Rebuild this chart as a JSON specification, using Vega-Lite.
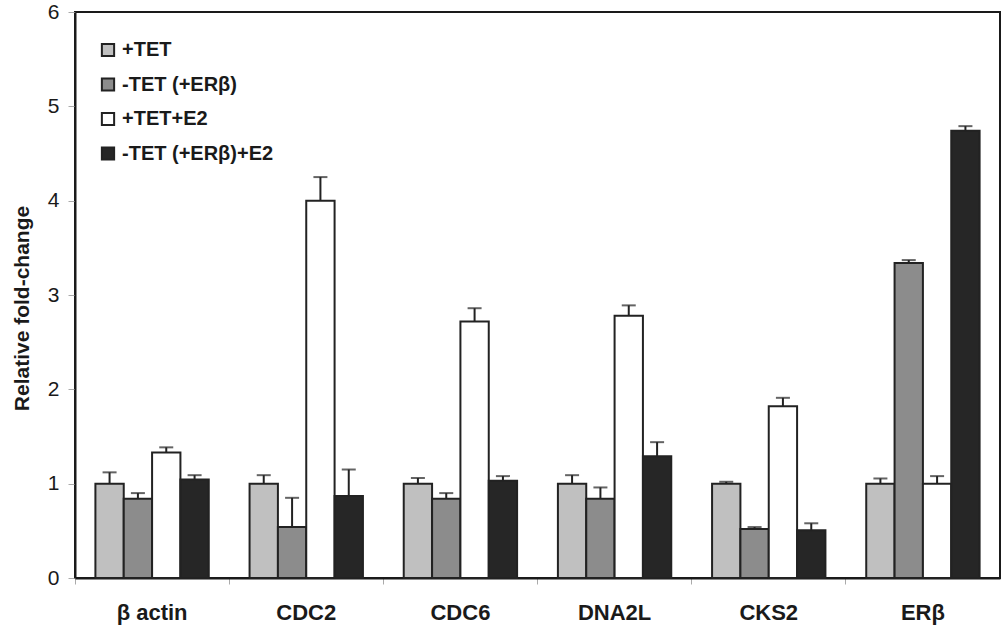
{
  "$schema": "https://vega.github.io/schema/vega-lite/v6.json",
  "width": 925,
  "height": 566,
  "autosize": {"type": "none"},
  "padding": {"left": 75, "top": 12, "right": 4, "bottom": 52},
  "background": "white",
  "config": {
    "view": {"stroke": "#1a1a1a", "strokeWidth": 2},
    "font": "Liberation Sans",
    "axis": {"grid": false}
  },
  "data": {
    "values": [
      {"gene": "β actin", "treatment": "+TET", "value": 1.0, "upper": 1.12},
      {"gene": "β actin", "treatment": "-TET (+ERβ)", "value": 0.84, "upper": 0.9},
      {"gene": "β actin", "treatment": "+TET+E2", "value": 1.33, "upper": 1.385},
      {"gene": "β actin", "treatment": "-TET (+ERβ)+E2", "value": 1.045, "upper": 1.09},
      {"gene": "CDC2", "treatment": "+TET", "value": 1.0, "upper": 1.09},
      {"gene": "CDC2", "treatment": "-TET (+ERβ)", "value": 0.54, "upper": 0.85},
      {"gene": "CDC2", "treatment": "+TET+E2", "value": 4.0, "upper": 4.25},
      {"gene": "CDC2", "treatment": "-TET (+ERβ)+E2", "value": 0.87, "upper": 1.15},
      {"gene": "CDC6", "treatment": "+TET", "value": 1.0, "upper": 1.06},
      {"gene": "CDC6", "treatment": "-TET (+ERβ)", "value": 0.84, "upper": 0.9},
      {"gene": "CDC6", "treatment": "+TET+E2", "value": 2.72, "upper": 2.86},
      {"gene": "CDC6", "treatment": "-TET (+ERβ)+E2", "value": 1.03, "upper": 1.08},
      {"gene": "DNA2L", "treatment": "+TET", "value": 1.0, "upper": 1.09},
      {"gene": "DNA2L", "treatment": "-TET (+ERβ)", "value": 0.84, "upper": 0.96},
      {"gene": "DNA2L", "treatment": "+TET+E2", "value": 2.78, "upper": 2.89},
      {"gene": "DNA2L", "treatment": "-TET (+ERβ)+E2", "value": 1.29, "upper": 1.44},
      {"gene": "CKS2", "treatment": "+TET", "value": 1.0, "upper": 1.02},
      {"gene": "CKS2", "treatment": "-TET (+ERβ)", "value": 0.52, "upper": 0.54},
      {"gene": "CKS2", "treatment": "+TET+E2", "value": 1.82, "upper": 1.91},
      {"gene": "CKS2", "treatment": "-TET (+ERβ)+E2", "value": 0.505, "upper": 0.58},
      {"gene": "ERβ", "treatment": "+TET", "value": 1.0, "upper": 1.055},
      {"gene": "ERβ", "treatment": "-TET (+ERβ)", "value": 3.34, "upper": 3.37},
      {"gene": "ERβ", "treatment": "+TET+E2", "value": 1.0, "upper": 1.08},
      {"gene": "ERβ", "treatment": "-TET (+ERβ)+E2", "value": 4.74, "upper": 4.79}
    ]
  },
  "encoding": {
    "x": {
      "field": "gene",
      "type": "nominal",
      "sort": ["β actin", "CDC2", "CDC6", "DNA2L", "CKS2", "ERβ"],
      "scale": {"paddingInner": 0, "paddingOuter": 0},
      "axis": {
        "title": null,
        "labelAngle": 0,
        "labelFontSize": 22,
        "labelFontWeight": "bold",
        "labelColor": "#1a1a1a",
        "labelPadding": 18,
        "bandPosition": 0,
        "tickSize": 6,
        "tickColor": "#aaaaaa",
        "domainColor": "#1a1a1a",
        "domainWidth": 2
      }
    },
    "xOffset": {
      "field": "treatment",
      "type": "nominal",
      "sort": ["+TET", "-TET (+ERβ)", "+TET+E2", "-TET (+ERβ)+E2"],
      "scale": {"paddingOuter": 0.72, "paddingInner": 0}
    }
  },
  "layer": [
    {
      "mark": {"type": "bar", "stroke": "#222222", "strokeWidth": 2},
      "encoding": {
        "y": {
          "field": "value",
          "type": "quantitative",
          "scale": {"domain": [0, 6], "nice": false},
          "axis": {
            "values": [0, 1, 2, 3, 4, 5, 6],
            "format": "d",
            "title": "Relative fold-change",
            "titleFontSize": 21,
            "titleFontWeight": "bold",
            "titleColor": "#1a1a1a",
            "titlePadding": 15,
            "titleY": 296,
            "labelFontSize": 21,
            "labelColor": "#1a1a1a",
            "labelPadding": 9,
            "tickSize": 7,
            "tickColor": "#aaaaaa",
            "domainColor": "#1a1a1a",
            "domainWidth": 2
          }
        },
        "fill": {
          "field": "treatment",
          "type": "nominal",
          "sort": ["+TET", "-TET (+ERβ)", "+TET+E2", "-TET (+ERβ)+E2"],
          "scale": {
            "domain": ["+TET", "-TET (+ERβ)", "+TET+E2", "-TET (+ERβ)+E2"],
            "range": ["#c0c0c0", "#8c8c8c", "#ffffff", "#262626"]
          },
          "legend": {
            "title": null,
            "orient": "none",
            "legendX": 23,
            "legendY": 28,
            "padding": 0,
            "symbolType": "square",
            "symbolSize": 150,
            "symbolStrokeColor": "#222222",
            "symbolStrokeWidth": 2,
            "labelFontSize": 20,
            "labelFontWeight": "bold",
            "labelColor": "#1a1a1a",
            "labelOffset": 4,
            "rowPadding": 12.5
          }
        }
      }
    },
    {
      "mark": {"type": "rule", "color": "#222222", "strokeWidth": 2},
      "encoding": {
        "y": {"field": "value", "type": "quantitative"},
        "y2": {"field": "upper"}
      }
    },
    {
      "mark": {"type": "tick", "orient": "horizontal", "size": 14, "thickness": 2, "color": "#222222"},
      "encoding": {
        "y": {"field": "upper", "type": "quantitative"}
      }
    }
  ]
}
